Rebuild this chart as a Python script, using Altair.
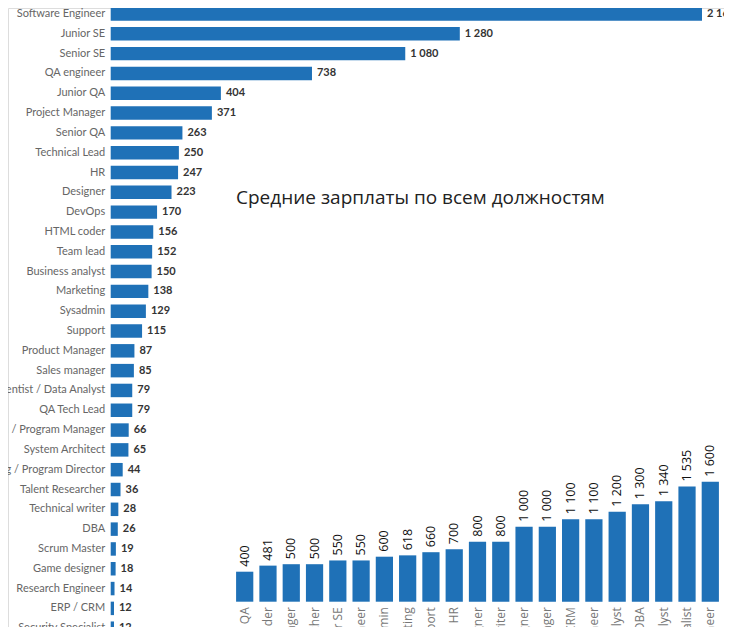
import altair as alt
import pandas as pd

# ---- data: number of respondents by position (left chart) ----
count_jobs = [
    "Software Engineer", "Junior SE", "Senior SE", "QA engineer", "Junior QA",
    "Project Manager", "Senior QA", "Technical Lead", "HR", "Designer", "DevOps",
    "HTML coder", "Team lead", "Business analyst", "Marketing", "Sysadmin",
    "Support", "Product Manager", "Sales manager", "Data Scientist / Data Analyst",
    "QA Tech Lead", "PM / Program Manager", "System Architect",
    "Engineering / Program Director", "Talent Researcher", "Technical writer",
    "DBA", "Scrum Master", "Game designer", "Research Engineer", "ERP / CRM",
    "Security Specialist",
]
counts = [2168, 1280, 1080, 738, 404, 371, 263, 250, 247, 223, 170, 156, 152,
          150, 138, 129, 115, 87, 85, 79, 79, 66, 65, 44, 36, 28, 26, 19, 18,
          14, 12, 12]

# ---- data: average salaries by position (lower right chart) ----
salary_jobs = [
    "Junior QA", "HTML coder", "Sales manager", "Talent Researcher", "Junior SE",
    "QA engineer", "Sysadmin", "Marketing", "Support", "HR", "Designer",
    "Technical writer", "Game designer", "Product Manager", "ERP / CRM",
    "Research Engineer", "Business analyst", "DBA",
    "Data Scientist / Data Analyst", "Security Specialist", "Software Engineer",
    "Senior SE",
]
salaries = [400, 481, 500, 500, 550, 550, 600, 618, 660, 700, 800, 800, 1000,
            1000, 1100, 1100, 1200, 1300, 1340, 1535, 1600, 1980]

title_text = "Средние зарплаты по всем должностям"


def space_fmt(v):
    return f"{v:,}".replace(",", " ")


df_a = pd.DataFrame({"job": count_jobs, "count": counts,
                     "label": [space_fmt(v) for v in counts]})
df_b = pd.DataFrame({"job": salary_jobs, "salary": salaries,
                     "label": [space_fmt(v) for v in salaries]})

BLUE = "#1f71b7"
W, H = 716, 619
BASE_B = 593.7  # baseline of the salary chart inside the svg

# ---- left horizontal chart ----
ya = alt.Y(
    "job:N", sort=None,
    scale=alt.Scale(range=[-3.9, 630.1], paddingInner=0.32, paddingOuter=0.16),
    axis=alt.Axis(orient="left", offset=-102.7, ticks=False, domain=False,
                  labelPadding=6, labelFont="Lato", labelFontSize=11,
                  labelColor="#666666", title=None, labelLimit=300),
)
xa = alt.X("count:Q",
           scale=alt.Scale(domain=[0, max(counts)], range=[102.7, 694], nice=False),
           axis=None)

bars_a = alt.Chart(df_a).mark_bar(color=BLUE).encode(x=xa, y=ya)
text_a = alt.Chart(df_a).mark_text(
    align="left", baseline="middle", dx=5, font="Lato", fontSize=11,
    fontWeight="bold", color="#333333"
).encode(x=xa, y=ya, text="label:N")
layer_a = alt.layer(bars_a, text_a)

# ---- lower right vertical chart ----
xb = alt.X(
    "job:N", sort=None,
    scale=alt.Scale(range=[225.06, 737.22], paddingInner=0.26, paddingOuter=0.13),
    axis=alt.Axis(orient="bottom", offset=-(H - BASE_B), labelAngle=270,
                  ticks=False, domain=False, labelPadding=5,
                  labelFont="Open Sans", labelFontSize=12,
                  labelColor="#777777", title=None),
)
yb = alt.Y("salary:Q",
           scale=alt.Scale(domain=[0, 2000], range=[BASE_B, BASE_B - 150],
                           nice=False),
           axis=None)

bars_b = alt.Chart(df_b).mark_bar(color=BLUE).encode(x=xb, y=yb)
text_b = alt.Chart(df_b).mark_text(
    angle=270, align="left", baseline="middle", dx=5, font="Open Sans",
    fontSize=12.5, color="#111111"
).encode(x=xb, y=yb, text="label:N")
layer_b = alt.layer(bars_b, text_b)

chart = alt.layer(layer_a, layer_b).resolve_scale(
    x="independent", y="independent"
).properties(
    width=W, height=H, padding=0,
    autosize=alt.AutoSizeParams(type="none"),
    title=alt.Title(title_text, anchor="start", frame="group", orient="top",
                    dx=228, dy=216, offset=0, baseline="alphabetic",
                    font="Open Sans", fontSize=19, fontWeight="normal",
                    color="#222222"),
).configure_view(strokeWidth=0).configure(background="white")

chart.save("out.html", embed_options={"renderer": "svg", "actions": False})
